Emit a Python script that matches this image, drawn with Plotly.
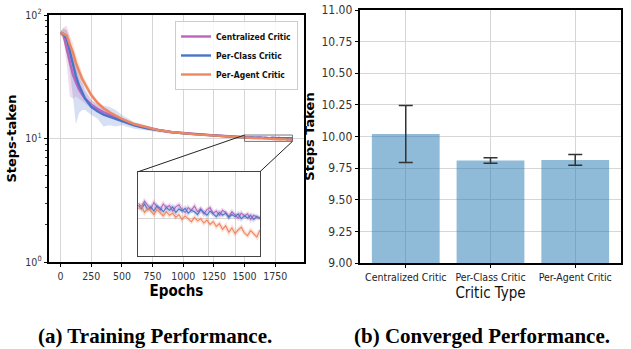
import math
import plotly.graph_objects as go

W, H = 631, 349

# ---------------- data: training curves ----------------
COARSE_EPOCHS = [0, 25, 50, 75, 100, 125, 150, 175, 200, 250, 300, 350, 400, 450,
                 500, 600, 700, 800, 900, 1000, 1100, 1200, 1300, 1400]

CENT_MEAN = [72, 68, 53, 41, 33, 28.5, 25, 22.8, 21, 18.8, 17.4, 16.4, 15.5, 14.7,
             14.0, 12.9, 12.2, 11.7, 11.3, 11.05, 10.85, 10.7, 10.52, 10.38]
CENT_LO = [70, 62, 40, 22, 21, 22, 21, 20, 19, 17.5, 16.5, 15.6, 14.8, 14.1,
           13.5, 12.5, 11.9, 11.45, 11.05, 10.85, 10.65, 10.5, 10.37, 10.25]
CENT_HI = [74, 80, 82, 66, 50, 40, 31, 27, 24, 20.5, 18.5, 17.3, 16.3, 15.3,
           14.5, 13.3, 12.5, 11.95, 11.55, 11.25, 11.05, 10.9, 10.7, 10.55]

CLASS_MEAN = [72, 70, 64, 50, 39, 32, 27, 23.5, 21, 18, 16.6, 15.6, 15.0, 14.4,
              13.8, 12.8, 12.1, 11.6, 11.25, 11.0, 10.8, 10.65, 10.48, 10.33]
CLASS_LO = [70, 65, 50, 35, 22, 13, 16, 17, 17, 15.5, 14.5, 12.5, 12.8, 12.5,
            12.8, 12.0, 11.6, 11.2, 11.0, 10.8, 10.62, 10.48, 10.35, 10.22]
CLASS_HI = [74, 78, 75, 62, 50, 42, 36, 29, 25, 20.5, 19, 18.5, 18, 17,
            15.5, 13.6, 12.7, 12.0, 11.5, 11.2, 11.0, 10.83, 10.66, 10.5]

AGENT_MEAN = [72, 70, 68, 58, 50, 41, 35, 30.5, 27.5, 22.5, 19.5, 17.6, 16.3, 15.3,
              14.4, 13.1, 12.3, 11.7, 11.3, 11.0, 10.8, 10.65, 10.48, 10.33]
AGENT_LO = [70, 66, 60, 48, 40, 34, 30, 27, 25, 21, 18.6, 17.0, 15.8, 14.8,
            14.0, 12.75, 12.0, 11.45, 11.05, 10.8, 10.62, 10.48, 10.34, 10.22]
AGENT_HI = [74, 76, 76, 68, 60, 48, 40, 34, 30, 24, 20.5, 18.2, 16.8, 15.8,
            14.8, 13.45, 12.6, 11.95, 11.55, 11.2, 10.98, 10.82, 10.66, 10.5]

# late-training segment, shown in the zoomed inset
FINE_EPOCHS = list(range(1500, 1891, 10))
CENT_FINE = [10.22, 10.17, 10.25, 10.19, 10.14, 10.23, 10.18, 10.12, 10.21, 10.16,
             10.19, 10.11, 10.17, 10.20, 10.13, 10.09, 10.16, 10.12, 10.18, 10.10,
             10.14, 10.07, 10.13, 10.16, 10.08, 10.11, 10.05, 10.12, 10.09, 10.03,
             10.10, 10.06, 10.01, 10.08, 10.04, 10.07, 9.99, 10.05, 10.02, 10.00]
CLASS_FINE = [10.19, 10.14, 10.21, 10.13, 10.17, 10.11, 10.18, 10.15, 10.10, 10.16,
              10.12, 10.17, 10.09, 10.14, 10.11, 10.15, 10.08, 10.12, 10.10, 10.06,
              10.13, 10.09, 10.05, 10.11, 10.07, 10.03, 10.09, 10.05, 10.08, 10.02,
              10.06, 10.03, 10.07, 10.00, 10.04, 10.01, 10.05, 9.99, 10.03, 10.01]
AGENT_FINE = [10.14, 10.18, 10.09, 10.15, 10.11, 10.06, 10.13, 10.08, 10.04, 10.10,
              10.05, 10.08, 10.02, 10.06, 9.99, 10.04, 10.00, 9.96, 10.02, 9.97,
              10.00, 9.94, 9.98, 9.92, 9.96, 9.89, 9.93, 9.85, 9.90, 9.81,
              9.87, 9.79, 9.84, 9.88, 9.80, 9.76, 9.83, 9.78, 9.74, 9.84]

SERIES_NAMES = ["Centralized Critic", "Per-Class Critic", "Per-Agent Critic"]

# ---------------- data: converged performance ----------------
CRITICS = ["Centralized Critic", "Per-Class Critic", "Per-Agent Critic"]
STEPS = [10.02, 9.81, 9.815]
STEPS_ERR = [0.225, 0.022, 0.042]

X_TICKS = [0, 250, 500, 750, 1000, 1250, 1500, 1750]
Y_TICKS = [1, 10, 100]
Y_TICK_TEXT = ["10<sup>0</sup>", "10<sup>1</sup>", "10<sup>2</sup>"]
BAR_Y_TICKS = [9.0, 9.25, 9.5, 9.75, 10.0, 10.25, 10.5, 10.75, 11.0]

# ---------------- styling ----------------
COLORS = ["#bb66bb", "#4a74c9", "#ee8660"]
BANDS = ["rgba(187,102,187,0.22)", "rgba(74,116,201,0.22)", "rgba(238,134,96,0.22)"]
HALOS = ["rgba(187,102,187,0.25)", "rgba(74,116,201,0.25)", "rgba(238,134,96,0.25)"]
NARROW = "Liberation Sans Narrow, DejaVu Sans Condensed, Arial Narrow, sans-serif"
DEJAVU = "DejaVu Sans, sans-serif"
SERIF = "Liberation Serif, serif"
GRID = "#d6d6d6"

MAIN_X = [49 / W, 304 / W]
MAIN_Y = [1 - 262 / H, 1 - 15 / H]
INSET_X = [138.3 / W, 260 / W]
INSET_Y = [1 - 256 / H, 1 - 171.7 / H]
BAR_X = [360 / W, 621 / W]
BAR_Y = [1 - 263 / H, 1 - 10 / H]

MAIN_XRANGE = [-94.5, 1984.5]
MAIN_YRANGE_LOG = [0, 2]
INSET_XRANGE = [FINE_EPOCHS[0], FINE_EPOCHS[-1]]
INSET_YRANGE = [9.47, 10.67]

fig = go.Figure()

means = [CENT_MEAN, CLASS_MEAN, AGENT_MEAN]
los = [CENT_LO, CLASS_LO, AGENT_LO]
his = [CENT_HI, CLASS_HI, AGENT_HI]
fines = [CENT_FINE, CLASS_FINE, AGENT_FINE]

# shaded variability bands
for i in range(3):
    fig.add_trace(go.Scatter(x=COARSE_EPOCHS, y=los[i], mode="lines", line=dict(width=0),
                             showlegend=False, hoverinfo="skip", xaxis="x", yaxis="y"))
    fig.add_trace(go.Scatter(x=COARSE_EPOCHS, y=his[i], mode="lines", line=dict(width=0),
                             fill="tonexty", fillcolor=BANDS[i], showlegend=False,
                             hoverinfo="skip", xaxis="x", yaxis="y"))

# main curves
for i in range(3):
    fig.add_trace(go.Scatter(x=COARSE_EPOCHS + FINE_EPOCHS, y=means[i] + fines[i],
                             mode="lines", name=SERIES_NAMES[i],
                             line=dict(color=COLORS[i], width=2.4),
                             xaxis="x", yaxis="y"))

# bars
fig.add_trace(go.Bar(x=CRITICS, y=STEPS, marker=dict(color="rgba(31,119,180,0.5)", line=dict(width=0)),
                     error_y=dict(type="data", array=STEPS_ERR, color="#333333", thickness=1.5, width=7),
                     showlegend=False, xaxis="x2", yaxis="y2"))

# inset curves
for i in range(3):
    fig.add_trace(go.Scatter(x=FINE_EPOCHS, y=fines[i], mode="lines",
                             line=dict(color=HALOS[i], width=4), showlegend=False,
                             hoverinfo="skip", xaxis="x3", yaxis="y3"))
    fig.add_trace(go.Scatter(x=FINE_EPOCHS, y=fines[i], mode="lines",
                             line=dict(color=COLORS[i], width=1.1), showlegend=False,
                             xaxis="x3", yaxis="y3"))


def main_to_paper(ex, vy):
    px = MAIN_X[0] + (ex - MAIN_XRANGE[0]) / (MAIN_XRANGE[1] - MAIN_XRANGE[0]) * (MAIN_X[1] - MAIN_X[0])
    py = MAIN_Y[0] + (math.log10(vy) - MAIN_YRANGE_LOG[0]) / (MAIN_YRANGE_LOG[1] - MAIN_YRANGE_LOG[0]) * (MAIN_Y[1] - MAIN_Y[0])
    return px, py


ul = main_to_paper(INSET_XRANGE[0], INSET_YRANGE[1])
lr = main_to_paper(INSET_XRANGE[1], INSET_YRANGE[0])
shapes = [
    dict(type="rect", xref="paper", yref="paper", x0=ul[0], y0=lr[1], x1=lr[0], y1=ul[1],
         line=dict(color="#555555", width=0.8)),
    dict(type="line", xref="paper", yref="paper", x0=ul[0], y0=ul[1], x1=INSET_X[0], y1=INSET_Y[1],
         line=dict(color="#222222", width=1)),
    dict(type="line", xref="paper", yref="paper", x0=lr[0], y0=lr[1], x1=INSET_X[1], y1=INSET_Y[1],
         line=dict(color="#222222", width=1)),
]

tickfont_main = dict(family=NARROW, size=10.5, color="#333333")
fig.update_layout(
    width=W, height=H, margin=dict(l=0, r=0, t=0, b=0, autoexpand=False),
    paper_bgcolor="white", plot_bgcolor="white",
    bargap=0.2,
    shapes=shapes,
    legend=dict(x=298 / W, xanchor="right", y=1 - 21 / H, yanchor="top", traceorder="normal",
                bgcolor="rgba(255,255,255,0.85)", bordercolor="#cccccc", borderwidth=1,
                font=dict(family=NARROW, size=8.5, color="#111111", weight="bold"),
                itemwidth=30, tracegroupgap=0),
    xaxis=dict(domain=MAIN_X, anchor="y", automargin=False, range=MAIN_XRANGE, tickvals=X_TICKS,
               showgrid=True, gridcolor=GRID,
               gridwidth=1, zeroline=False, showline=True, mirror=True, linecolor="black", linewidth=1.6,
               ticks="outside", ticklen=3.5, tickcolor="black", tickfont=tickfont_main,
               title=dict(text="Epochs", standoff=4,
                          font=dict(family=NARROW, size=15, color="black", weight="bold"))),
    yaxis=dict(domain=MAIN_Y, anchor="x", automargin=False, type="log", range=MAIN_YRANGE_LOG,
               tickvals=Y_TICKS, ticktext=Y_TICK_TEXT,
               showgrid=True, gridcolor=GRID, gridwidth=1, zeroline=False, showline=True, mirror=True,
               linecolor="black", linewidth=1.6, ticks="outside", ticklen=3.5, tickcolor="black",
               tickfont=tickfont_main,
               minor=dict(tickvals=[2, 3, 4, 5, 6, 7, 8, 9, 20, 30, 40, 50, 60, 70, 80, 90],
                          ticks="outside", ticklen=2, tickcolor="#333333", showgrid=False),
               title=dict(text="Steps-taken", standoff=6,
                          font=dict(family=DEJAVU, size=13, color="black", weight="bold"))),
    xaxis2=dict(domain=BAR_X, anchor="y2", automargin=False, type="category", range=[-0.54, 2.54],
                showgrid=True, gridcolor=GRID,
                gridwidth=1, showline=True, mirror=True, linecolor="black", linewidth=1.6,
                ticks="outside", ticklen=3.5, tickcolor="black", tickangle=0,
                tickfont=dict(family=NARROW, size=10.5, color="#222222"),
                title=dict(text="Critic Type", standoff=6,
                           font=dict(family=NARROW, size=15, color="#111111"))),
    yaxis2=dict(domain=BAR_Y, anchor="x2", automargin=False, range=[9.0, 11.0], tickvals=BAR_Y_TICKS,
                tickformat=".2f",
                showgrid=True, gridcolor=GRID, gridwidth=1, zeroline=False, showline=True, mirror=True,
                linecolor="black", linewidth=1.6, ticks="outside", ticklen=3.5, tickcolor="black",
                tickfont=dict(family=NARROW, size=12, color="#333333"),
                title=dict(text="Steps Taken", standoff=4,
                           font=dict(family=DEJAVU, size=13, color="black", weight="bold"))),
    xaxis3=dict(domain=INSET_X, anchor="y3", automargin=False, range=INSET_XRANGE, tickmode="array",
                tickvals=[1552, 1641, 1726, 1812],
                showticklabels=False, ticks="", showgrid=True, gridcolor=GRID, gridwidth=1, zeroline=False,
                showline=True, mirror=True, linecolor="#444444", linewidth=1),
    yaxis3=dict(domain=INSET_Y, anchor="x3", automargin=False, range=INSET_YRANGE, tickmode="array",
                tickvals=[10], showticklabels=False, ticks="",
                showgrid=True, gridcolor=GRID, gridwidth=1, zeroline=False,
                showline=True, mirror=True, linecolor="#444444", linewidth=1),
    annotations=[
        dict(text="(a) Training Performance.", xref="paper", yref="paper", x=155 / W, y=1 - 336 / H,
             xanchor="center", yanchor="middle", showarrow=False,
             font=dict(family=SERIF, size=21, color="black", weight="bold")),
        dict(text="(b) Converged Performance.", xref="paper", yref="paper", x=482 / W, y=1 - 336 / H,
             xanchor="center", yanchor="middle", showarrow=False,
             font=dict(family=SERIF, size=21, color="black", weight="bold")),
    ],
)

fig.write_html("out.html", config={"displayModeBar": False},
               post_script="document.body.style.margin='0';document.body.style.padding='0';")
